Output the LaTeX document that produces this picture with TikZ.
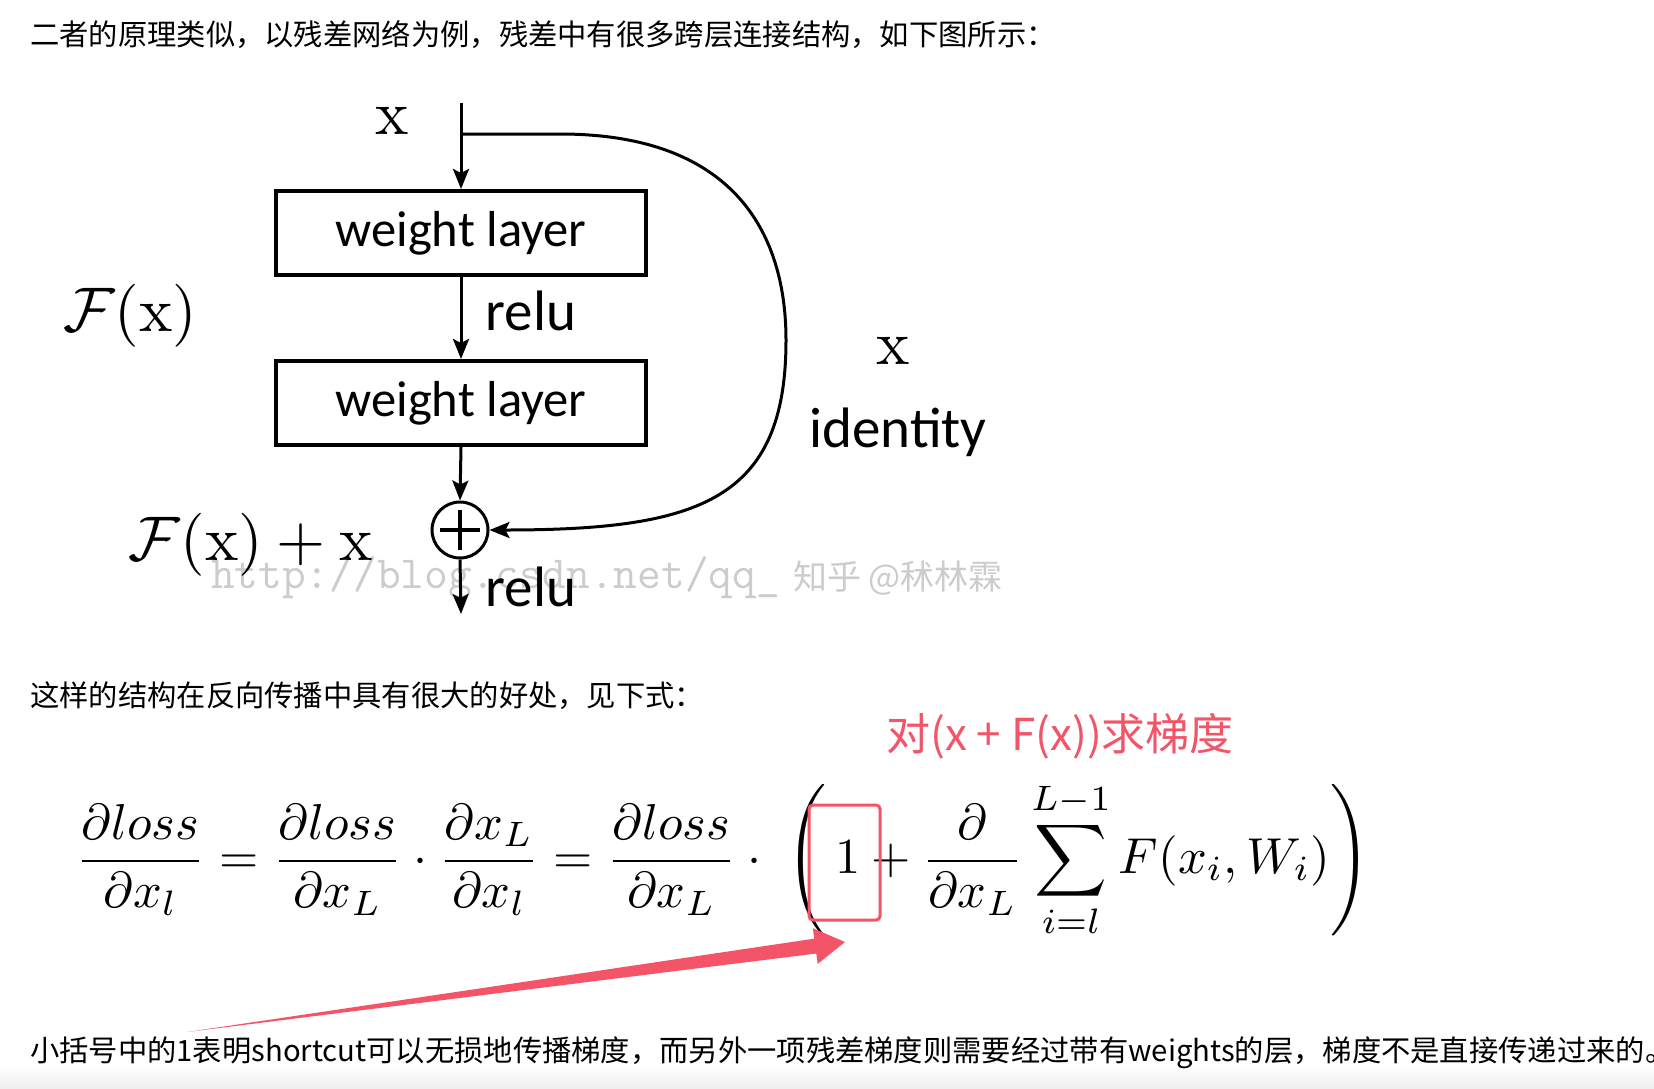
\documentclass[tikz,border=0pt]{standalone}
\usepackage{fontspec}
\usepackage{graphicx}
\usetikzlibrary{arrows.meta,calc}
\newfontfamily\cjk{Noto Sans CJK SC}
\newfontfamily\carl{Carlito}
\definecolor{hl}{RGB}{244,84,104}
\begin{document}
\begin{tikzpicture}[x=1pt,y=-1pt,
  box/.style={draw, line width=4pt, minimum width=370pt, minimum height=84pt, inner sep=0, font=\carl\fontsize{50.6}{60}\selectfont},
  lbl/.style={inner sep=0, font=\carl\fontsize{57}{60}\selectfont},
  mth/.style={inner sep=0},
  conn/.style={line width=3pt, -{Stealth[length=20pt,width=16pt,inset=4pt]}},
  cjktext/.style={inner sep=0, anchor=west, font=\cjk\fontsize{29.3}{34}\selectfont},
  wm/.style={inner sep=0, anchor=west, text=black!20},
]
\useasboundingbox (0,0) rectangle (1654,1088);
\fill[white] (0,0) rectangle (1654,1088);
\shade[top color=white, bottom color=black!6] (0,1066) rectangle (1654,1088);

% texts
\node[cjktext] (t1) at (30,35) {二者的原理类似，以残差网络为例，残差中有很多跨层连接结构，如下图所示：};
\node[cjktext] (t2) at (30,696) {这样的结构在反向传播中具有很大的好处，见下式：};
\node[cjktext] (t3) at (30,1053) {小括号中的1表明shortcut可以无损地传播梯度，而另外一项残差梯度则需要经过带有weights的层，梯度不是直接传递过来的。};

% watermark
\node[wm, font=\ttfamily\fontsize{46}{46}\selectfont] (wm1) at (211,578) {http://blog.csdn.net/qq\_};
\node[wm, font=\cjk\fontsize{34}{34}\selectfont] (wm2) at (793,578) {知乎 @秫林霖};

% diagram
\node[box] (w1) at (461,233) {weight layer};
\node[box] (w2) at (461,403) {weight layer};
\node[circle, draw, line width=3pt, minimum size=56pt, inner sep=0] (plus) at (460,530) {};
\draw[line width=3.5pt] ($(plus.center)+(-20,0)$) -- ($(plus.center)+(20,0)$);
\draw[line width=3.5pt] ($(plus.center)+(0,-20)$) -- ($(plus.center)+(0,20)$);
\coordinate (top) at (461,103);
\coordinate (bot) at (461,614);
\coordinate (split) at (461,134);
\draw[conn] (top) -- (w1.north);
\draw[conn] (w1.south) -- (w2.north);
\draw[conn] (w2.south) -- (plus.north);
\draw[conn] (plus.south) -- (bot);
\draw[conn] (split) -- (560,134) .. controls (740,134) and (786,240) .. (786,340) .. controls (786,500) and (700,530) .. (plus.east);

\node[mth] (xtop) at (392,121) {\scalebox{6.3}{$\mathrm{x}$}};
\node[mth] (fx) at (130,316) {\scalebox{6.3}{$\mathcal{F}(\mathrm{x})$}};
\node[mth] (fxx) at (251,545) {\scalebox{6.3}{$\mathcal{F}(\mathrm{x})+\mathrm{x}$}};
\node[mth] (xr) at (893,351) {\scalebox{6.3}{$\mathrm{x}$}};
\node[lbl] (r1) at (531,311) {relu};
\node[lbl] (id) at (898,432) {identity};
\node[lbl] (r2) at (531,587) {relu};

% equation
\node[inner sep=0, text=hl, font=\cjk\fontsize{44}{50}\selectfont] (grad) at (1060,736) {对(x + F(x))求梯度};
\node[mth] (eq) at (723,860) {\resizebox{1294pt}{!}{$\displaystyle \frac{\partial loss}{\partial x_l}=\frac{\partial loss}{\partial x_L}\cdot\frac{\partial x_L}{\partial x_l}=\frac{\partial loss}{\partial x_L}\cdot\;\left(\,1+\frac{\partial}{\partial x_L}\sum_{i=l}^{L-1}F(x_i,W_i)\right)$}};
\node[draw=hl, line width=3pt, rounded corners=4pt, minimum width=71pt, minimum height=115pt, inner sep=0] (onebox) at (844.5,862.5) {};

% red arrow
\coordinate (atail) at (187,1032);
\coordinate (atip) at (845,942);
\coordinate (abase) at ($(atip)!30pt!(atail)$);
\fill[hl] (atail) -- ($(abase)!7.5pt!90:(atip)$) -- ($(abase)!18pt!90:(atip)$) -- (atip) -- ($(abase)!18pt!-90:(atip)$) -- ($(abase)!7.5pt!-90:(atip)$) -- cycle;
\end{tikzpicture}
\end{document}
